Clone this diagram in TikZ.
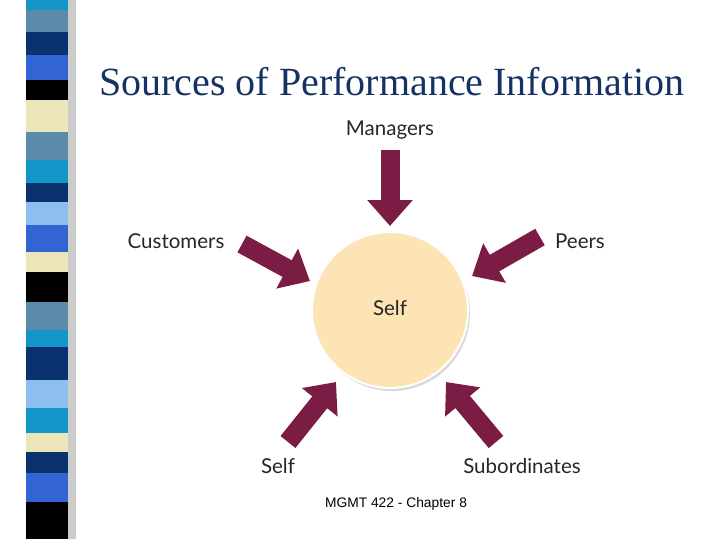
\documentclass[tikz,border=0pt]{standalone}
\usepackage{fontspec}
\setmainfont{Liberation Serif}
\newfontfamily\labelfont{Lato}
\newfontfamily\footfont{Liberation Sans}
\usetikzlibrary{arrows.meta,shadows}
\definecolor{arrowred}{RGB}{122,28,68}
\definecolor{selffill}{RGB}{252,228,180}
\definecolor{titleblue}{RGB}{22,50,100}
\definecolor{cyanb}{RGB}{20,150,200}
\definecolor{steelb}{RGB}{90,140,170}
\definecolor{navyb}{RGB}{10,50,110}
\definecolor{royalb}{RGB}{50,100,210}
\definecolor{creamb}{RGB}{235,230,185}
\definecolor{lightb}{RGB}{140,190,240}
\tikzset{
  srclabel/.style={font=\labelfont\fontsize{20.5}{23}\selectfont, text=black!85},
  srcarrow/.style={arrowred, line width=19pt, -{Triangle[width=44pt,length=26pt]}},
}
\begin{document}
\begin{tikzpicture}[x=1pt,y=-1pt]
  \useasboundingbox (0,0) rectangle (720,539);
  % striped bar on the left
  \fill[black!20] (68,0) rectangle (76,539);
  \foreach \a/\b/\c in {0/10/cyanb,10/32/steelb,32/55/navyb,55/80/royalb,80/100/black,
      100/132/creamb,132/160/steelb,160/183/cyanb,183/202/navyb,202/225/lightb,
      225/252/royalb,252/272/creamb,272/302/black,302/330/steelb,330/347/cyanb,
      347/380/navyb,380/408/lightb,408/433/cyanb,433/452/creamb,452/473/navyb,
      473/502/royalb,502/539/black}
    \fill[\c] (26,\a) rectangle (68,\b);
  % title
  \node (title) at (392,82) {\color{titleblue}\fontsize{40}{44}\selectfont Sources of Performance Information};
  % centre
  \node[circle, fill=selffill, minimum size=156pt, draw=white, line width=2pt,
        drop shadow={shadow xshift=2pt, shadow yshift=-3pt, opacity=0.3}] (self) at (390,310) {};
  \node[srclabel] at (390,308) {Self};
  % sources
  \node[srclabel] (managers) at (390,130) {Managers};
  \node[srclabel] (customers) at (176,241) {Customers};
  \node[srclabel] (peers) at (580,241) {Peers};
  \node[srclabel] (selfsrc) at (278,466) {Self};
  \node[srclabel] (subs) at (522,466) {Subordinates};
  \coordinate (m0) at (390,150); \coordinate (m1) at (390,226);
  \coordinate (c0) at (242,244); \coordinate (c1) at (310,281);
  \coordinate (p0) at (540,237); \coordinate (p1) at (472,276);
  \coordinate (s0) at (288,442); \coordinate (s1) at (336,382);
  \coordinate (b0) at (496,442); \coordinate (b1) at (446,382);
  \foreach \u/\v in {m0/m1,c0/c1,p0/p1,s0/s1,b0/b1}
    \draw[srcarrow] (\u) -- (\v);
  % footer
  \node (foot) at (396,504) {\footfont\fontsize{13.8}{16}\selectfont MGMT 422 - Chapter 8};
\end{tikzpicture}
\end{document}
